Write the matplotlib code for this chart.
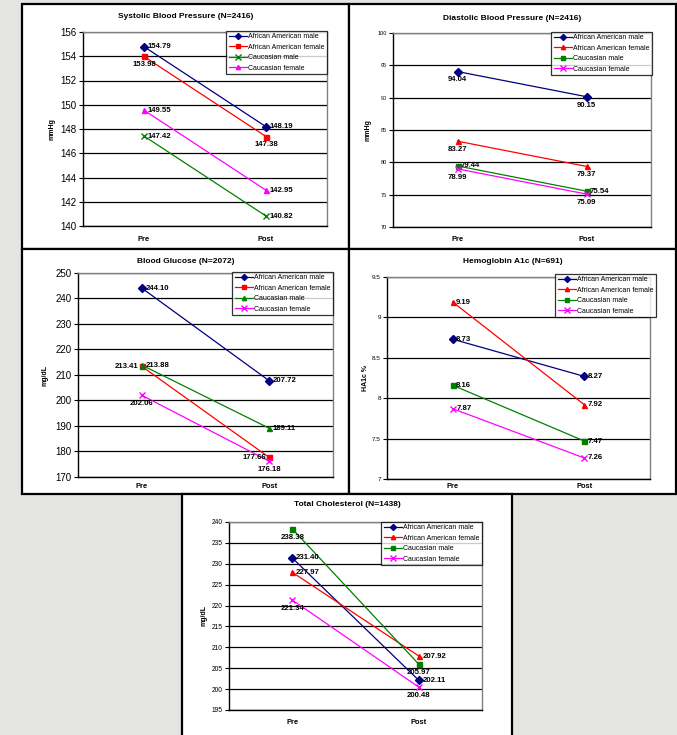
import matplotlib
matplotlib.use("Agg")
import matplotlib.pyplot as plt
from matplotlib.patches import Rectangle
import numpy as np

plt.rcParams['font.family'] = ['Liberation Sans', 'DejaVu Sans']

W, H = 677, 735

groups = ["African American male", "African American female",
          "Caucasian male", "Caucasian female"]
phases = ["Pre", "Post"]

# pre / post values per group
sbp_aam = [154.79, 148.19]
sbp_aaf = [153.98, 147.38]
sbp_cm = [147.42, 140.82]
sbp_cf = [149.55, 142.95]

dbp_aam = [94.04, 90.15]
dbp_aaf = [83.27, 79.37]
dbp_cm = [79.44, 75.54]
dbp_cf = [78.99, 75.09]

glu_aam = [244.10, 207.72]
glu_aaf = [213.41, 177.66]
glu_cm = [213.88, 189.11]
glu_cf = [202.06, 176.18]

a1c_aam = [8.73, 8.27]
a1c_aaf = [9.19, 7.92]
a1c_cm = [8.16, 7.47]
a1c_cf = [7.87, 7.26]

chol_aam = [231.40, 202.11]
chol_aaf = [227.97, 207.92]
chol_cm = [238.38, 205.97]
chol_cf = [221.34, 200.48]

colors = ["#000080", "#ff0000", "#008000", "#ff00ff"]


def px_rect(l, t, r, b):
    return [l / W, 1 - b / H, (r - l) / W, (b - t) / H]


fig = plt.figure(figsize=(W / 100, H / 100), dpi=100)
fig.patch.set_facecolor("#e4e4e2")


def panel(frame, box, title, title_y, ylab, ylab_x, xlab_y, series, markers,
          places, yticks, ylim, tick_fs, leg_box, ytickfmt=None):
    # white chart frame
    fl, ft, fr, fb = frame
    fig.patches.append(Rectangle((fl / W, 1 - fb / H), (fr - fl) / W, (fb - ft) / H,
                                 transform=fig.transFigure, facecolor="white",
                                 edgecolor="black", lw=1.6, zorder=-5))
    ax = fig.add_axes(px_rect(*box))
    ax.set_facecolor("white")
    x = np.arange(len(phases))
    for vals, c, mk, pl, name in zip(series, colors, markers, places, groups):
        ms = 4.5 if mk == "x" else 3.6
        ax.plot(x, vals, color=c, marker=mk, ms=ms, lw=0.9, mew=1.0,
                label=name, zorder=3, clip_on=False)
        for xi, v, p in zip(x, vals, pl):
            txt = "%.2f" % v
            if p == "r":
                off, ha, va = (2.5, 0), "left", "center"
            elif p == "l":
                off, ha, va = (-2.5, 0), "right", "center"
            else:
                off, ha, va = (0, -3.5), "center", "top"
            ax.annotate(txt, (xi, v), xytext=off, textcoords="offset points",
                        ha=ha, va=va, fontsize=5.6, fontweight="bold", zorder=4)
    ax.set_xlim(-0.5, 1.5)
    ax.set_ylim(*ylim)
    ax.set_yticks(yticks)
    if ytickfmt is not None:
        ax.set_yticklabels([ytickfmt(t) for t in yticks])
    ax.tick_params(axis="y", labelsize=tick_fs, length=3, width=0.8, pad=1.5)
    ax.set_xticks([])
    ax.grid(axis="y", color="black", lw=0.9)
    ax.set_axisbelow(True)
    for s in ["left", "bottom"]:
        ax.spines[s].set_color("black")
        ax.spines[s].set_linewidth(1.0)
    for s in ["top", "right"]:
        ax.spines[s].set_color("#808080")
        ax.spines[s].set_linewidth(1.0)
    # category labels under the axis
    for xi, lab in zip(x, phases):
        xd = box[0] + (xi + 0.5) / 2 * (box[2] - box[0])
        fig.text(xd / W, 1 - xlab_y / H, lab, ha="center",
                 va="center", fontsize=5.4, fontweight="bold")
    cx = (fl + fr) / 2
    fig.text(cx / W, 1 - title_y / H, title, ha="center", va="center",
             fontsize=6, fontweight="bold")
    fig.text(ylab_x / W, 1 - ((box[1] + box[3]) / 2) / H, ylab, rotation=90,
             ha="center", va="center", fontsize=5, fontweight="bold")
    ll, lt, lr, lb = leg_box
    leg = ax.legend(loc="upper right", bbox_to_anchor=(lr / W, 1 - lt / H),
                    bbox_transform=fig.transFigure, fontsize=5, frameon=True,
                    fancybox=False, borderaxespad=0, borderpad=0.35,
                    labelspacing=0.5, handlelength=2.6, handletextpad=0.2,
                    markerscale=0.85)
    leg.get_frame().set_edgecolor("black")
    leg.get_frame().set_linewidth(0.9)
    leg.set_zorder(5)
    return ax


def fmt_a1c(t):
    return ("%g" % t)


panel((22, 4, 349, 249), (83, 32, 327, 226), "Systolic Blood Pressure (N=2416)", 16,
      "mmHg", 52, 239, [sbp_aam, sbp_aaf, sbp_cm, sbp_cf], ["D", "s", "x", "^"],
      [("r", "r"), ("b", "b"), ("r", "r"), ("r", "r")],
      np.arange(140, 157, 2), (140, 156), 7, (230, 31, 327, 72))

panel((349, 4, 676, 249), (393, 33, 651, 227), "Diastolic Blood Pressure (N=2416)", 18,
      "mmHg", 368, 239, [dbp_aam, dbp_aaf, dbp_cm, dbp_cf], ["D", "^", "s", "x"],
      [("b", "b"), ("b", "b"), ("r", "r"), ("b", "b")],
      np.arange(70, 101, 5), (70, 100), 4, (552, 32, 652, 78))

panel((22, 249, 349, 494), (78, 273, 333, 477), "Blood Glucose (N=2072)", 261,
      "mg/dL", 45, 487, [glu_aam, glu_aaf, glu_cm, glu_cf], ["D", "s", "^", "x"],
      [("r", "r"), ("l", "l"), ("r", "r"), ("b", "b")],
      np.arange(170, 251, 10), (170, 250), 7, (239, 272, 333, 313))

panel((349, 249, 676, 494), (387, 277, 650, 479), "Hemoglobin A1c (N=691)", 261,
      "HA1c %", 366, 487, [a1c_aam, a1c_aaf, a1c_cm, a1c_cf], ["D", "^", "s", "x"],
      [("r", "r"), ("r", "r"), ("r", "r"), ("r", "r")],
      np.arange(7, 9.51, 0.5), (7, 9.5), 4.6, (566, 274, 656, 319), fmt_a1c)

panel((182, 494, 512, 745), (229, 522, 482, 710), "Total Cholesterol (N=1438)", 504,
      "mg/dL", 204, 723, [chol_aam, chol_aaf, chol_cm, chol_cf], ["D", "^", "s", "x"],
      [("r", "r"), ("r", "r"), ("b", "b"), ("b", "b")],
      np.arange(195, 241, 5), (195, 240), 4.8, (400, 522, 482, 563))

fig.savefig("out.png", dpi=100, facecolor=fig.get_facecolor())
